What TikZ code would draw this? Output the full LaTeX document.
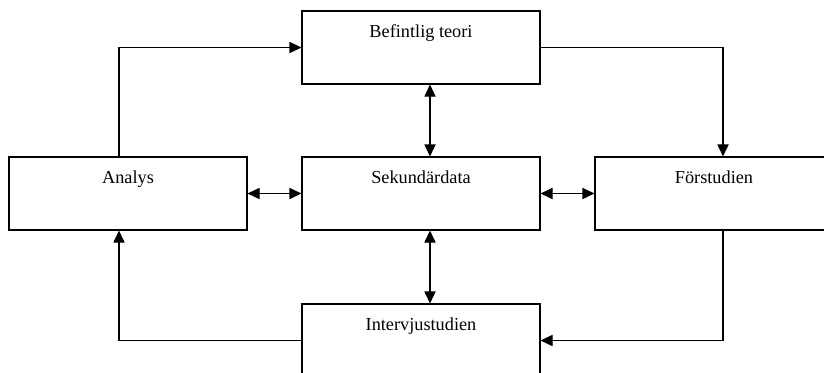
\documentclass[tikz,border=0pt]{standalone}
\usepackage{fontspec}
\setmainfont{Liberation Serif}
\usetikzlibrary{arrows.meta}

\tikzset{
    stepbox/.style={draw, line width=0.8pt, inner sep=0pt, minimum width=5.95cm,
        text height=0.65cm, text depth=1.175cm, font=\fontsize{13}{15}\selectfont},
    arr/.style={line width=0.8pt, -{Triangle[length=0.3cm,width=0.28cm]}},
    dbl/.style={line width=0.8pt, {Triangle[length=0.3cm,width=0.28cm]}-{Triangle[length=0.3cm,width=0.28cm]}}
}

\begin{document}
\begin{tikzpicture}
    \useasboundingbox (0,0) rectangle (20.6,-9.325);
    \clip (0,0) rectangle (20.6,-9.325);
    \node[stepbox] (teori) at (10.525,-1.1875) {Befintlig teori};
    \node[stepbox] (sek) at (10.525,-4.8375) {Sekundärdata};
    \node[stepbox] (ana) at (3.2,-4.8375) {Analys};
    \node[stepbox] (forst) at (17.85,-4.8375) {Förstudien};
    \node[stepbox] (intv) at (10.525,-8.5125) {Intervjustudien};
    \draw[arr] ([xshift=-0.225cm]ana.north) |- (teori.west);
    \draw[arr] (teori.east) -| ([xshift=0.225cm]forst.north);
    \draw[arr] ([xshift=0.225cm]forst.south) |- (intv.east);
    \draw[arr] (intv.west) -| ([xshift=-0.225cm]ana.south);
    \draw[dbl] (ana.east) -- (sek.west);
    \draw[dbl] (sek.east) -- (forst.west);
    \draw[dbl] ([xshift=0.225cm]teori.south) -- ([xshift=0.225cm]sek.north);
    \draw[dbl] ([xshift=0.225cm]sek.south) -- ([xshift=0.225cm]intv.north);
\end{tikzpicture}
\end{document}
